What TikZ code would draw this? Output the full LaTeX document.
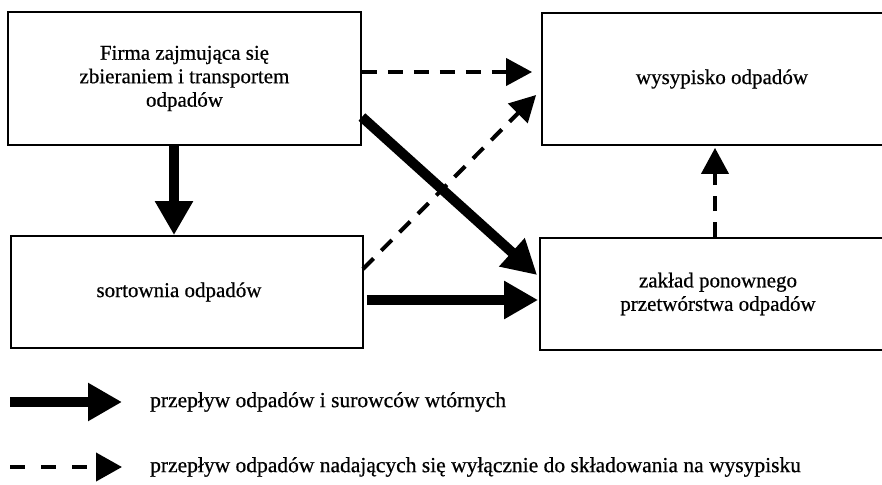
\documentclass[tikz,border=0pt]{standalone}
\usepackage{fontspec}
\setmainfont{Liberation Serif}[FakeBold=0.6]
\usetikzlibrary{arrows.meta}
\begin{document}
\begin{tikzpicture}[x=1pt,y=-1pt,
  box/.style={draw, line width=1.8pt, inner sep=0pt, align=center,
    font=\fontsize{21}{23.5}\selectfont},
  thickarrow/.style={line width=10pt, -{Triangle[length=34pt,width=36pt]}},
  dasharrow/.style={line width=4pt, dash pattern=on 15pt off 11pt,
    -{Triangle[length=26pt,width=27pt]}},
  legtext/.style={anchor=west, inner sep=0pt, font=\fontsize{21.5}{24}\selectfont}]
\useasboundingbox (0,0) rectangle (882,484);
\node[box, minimum width=353pt, minimum height=133pt] (b1) at (184.5,78.5)
  {Firma zajmująca się\\zbieraniem i transportem\\odpadów};
\node[box, minimum width=344pt, minimum height=132pt] (b2) at (714,79)
  {\hspace*{16pt}wysypisko odpadów};
\node[box, minimum width=352pt, minimum height=112pt] (b3) at (187,292)
  {\hspace*{-16pt}sortownia odpadów};
\node[box, minimum width=346pt, minimum height=112pt] (b4) at (713,294)
  {\hspace*{10pt}zakład ponownego\\\hspace*{10pt}przetwórstwa odpadów};
% arrows
\draw[thickarrow] ([xshift=-10.5pt]b1.south) -- ([xshift=-13pt]b3.north);
\draw[thickarrow] ([yshift=-38.5pt]b1.east) -- ([xshift=-2pt,yshift=19pt]b4.west);
\draw[thickarrow] ([xshift=3pt,yshift=-8pt]b3.east) -- ([xshift=-1pt,yshift=-6pt]b4.west);
\draw[dasharrow] ([yshift=6.5pt]b1.east) -- ([xshift=-9pt,yshift=7pt]b2.west);
\draw[dasharrow] ([xshift=-1pt,yshift=-34pt]b3.north east) -- ([xshift=-5pt,yshift=-16pt]b2.west);
\draw[dasharrow] ([xshift=2pt]b4.north) -- ([xshift=1pt,yshift=-2pt]b2.south);
% legend
\coordinate (l1) at (10,402);
\coordinate (l2) at (10,467);
\node[legtext] (t1) at (150,402) {przepływ odpadów i surowców wtórnych};
\node[legtext] (t2) at (150,467) {przepływ odpadów nadających się wyłącznie do składowania na wysypisku};
\draw[thickarrow] (l1) -- ([xshift=-28pt]t1.west);
\draw[line width=4pt, dash pattern=on 15pt off 16pt, -{Triangle[length=26pt,width=28pt]}] (l2) -- ([xshift=-28pt]t2.west);
\end{tikzpicture}
\end{document}
